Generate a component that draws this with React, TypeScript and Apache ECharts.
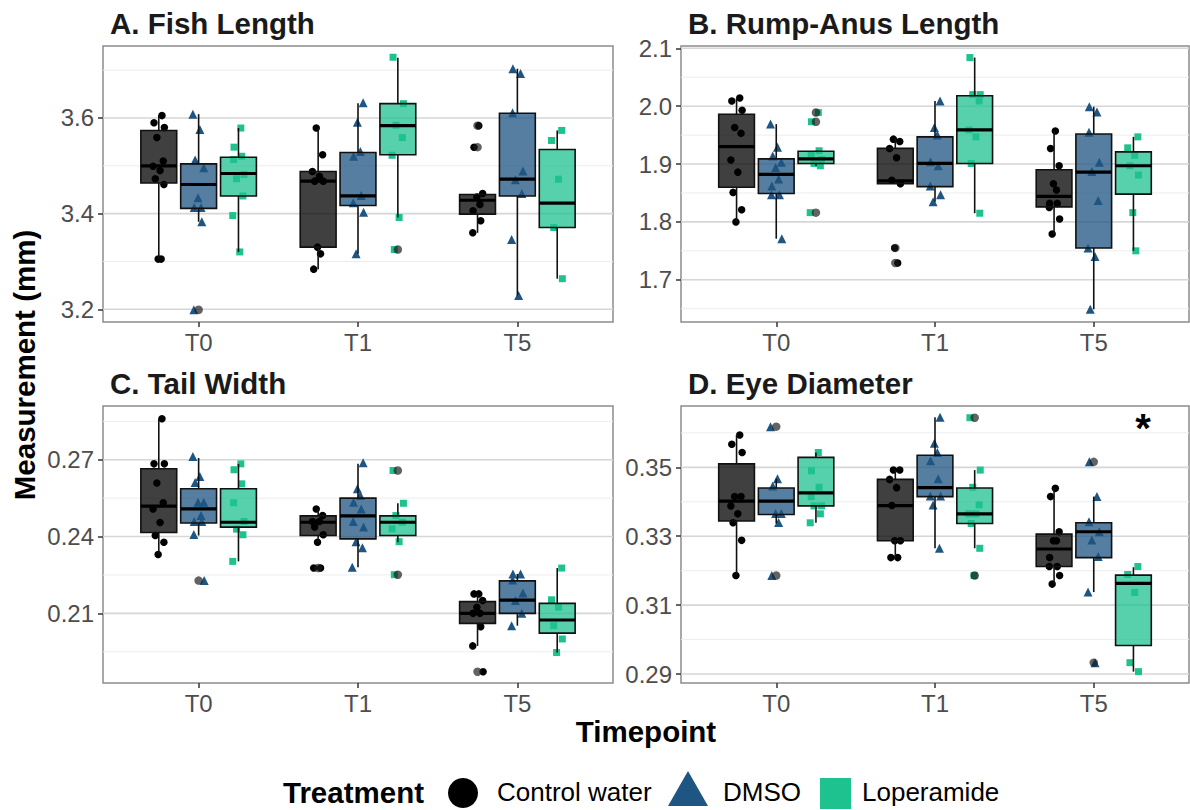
import React, { useEffect, useRef } from "react";
import * as echarts from "echarts";

const timepoints = ["T0", "T1", "T5"];
const treatments = ["Control water", "DMSO", "Loperamide"];

// Box statistics: [lower whisker, Q1, median, Q3, upper whisker] for T0, T1, T5
const fishControlBox = [[3.305, 3.464, 3.5, 3.574, 3.606], [3.284, 3.33, 3.468, 3.488, 3.579], [3.36, 3.399, 3.428, 3.44, 3.442]];
const fishDmsoBox = [[3.383, 3.411, 3.461, 3.504, 3.608], [3.316, 3.417, 3.437, 3.528, 3.631], [3.229, 3.437, 3.472, 3.61, 3.703]];
const fishLopBox = [[3.32, 3.437, 3.484, 3.518, 3.579], [3.392, 3.523, 3.584, 3.63, 3.726], [3.264, 3.371, 3.422, 3.534, 3.574]];

const rumpControlBox = [[1.8, 1.86, 1.93, 1.986, 2.014], [1.866, 1.866, 1.871, 1.927, 1.944], [1.779, 1.826, 1.844, 1.89, 1.957]];
const rumpDmsoBox = [[1.771, 1.849, 1.882, 1.909, 1.969], [1.835, 1.861, 1.901, 1.947, 2.009], [1.649, 1.755, 1.886, 1.952, 1.999]];
const rumpLopBox = [[1.897, 1.901, 1.909, 1.922, 1.923], [1.815, 1.901, 1.959, 2.018, 2.084], [1.75, 1.848, 1.897, 1.921, 1.947]];

const tailControlBox = [[0.233, 0.2416, 0.2519, 0.2665, 0.286], [0.2378, 0.2404, 0.2456, 0.2481, 0.2508], [0.1973, 0.2061, 0.21, 0.2146, 0.2176]];
const tailDmsoBox = [[0.2404, 0.2453, 0.2508, 0.2587, 0.2707], [0.228, 0.2391, 0.2481, 0.255, 0.2684], [0.2052, 0.21, 0.2152, 0.2227, 0.2254]];
const tailLopBox = [[0.2303, 0.2437, 0.2456, 0.2587, 0.2684], [0.2378, 0.2404, 0.2456, 0.2481, 0.253], [0.1947, 0.2023, 0.2074, 0.2139, 0.2277]];

const eyeControlBox = [[0.3186, 0.3344, 0.3402, 0.351, 0.3594], [0.3238, 0.3287, 0.3389, 0.3465, 0.3492], [0.3161, 0.3212, 0.3263, 0.3306, 0.3439]];
const eyeDmsoBox = [[0.3337, 0.3363, 0.3402, 0.344, 0.3467], [0.3265, 0.3415, 0.3441, 0.3535, 0.3645], [0.3138, 0.3238, 0.3313, 0.3339, 0.3415]];
const eyeLopBox = [[0.3339, 0.3388, 0.3426, 0.3529, 0.3543], [0.3265, 0.3337, 0.3365, 0.344, 0.3492], [0.2907, 0.2983, 0.3163, 0.3187, 0.321]];

// Individual measurements per timepoint (T0, T1, T5)
const fishControlPts = [[3.605, 3.59, 3.58, 3.559, 3.51, 3.499, 3.49, 3.473, 3.461, 3.305, 3.305], [3.579, 3.523, 3.488, 3.478, 3.468, 3.468, 3.33, 3.316, 3.284], [3.584, 3.539, 3.442, 3.435, 3.419, 3.406, 3.385, 3.36]];
const fishDmsoPts = [[3.608, 3.576, 3.512, 3.496, 3.433, 3.413, 3.413, 3.383, 3.199], [3.632, 3.591, 3.53, 3.52, 3.438, 3.423, 3.403, 3.316], [3.703, 3.693, 3.611, 3.489, 3.471, 3.442, 3.346, 3.229]];
const fishLopPts = [[3.579, 3.539, 3.52, 3.513, 3.482, 3.473, 3.437, 3.396, 3.32], [3.727, 3.63, 3.585, 3.559, 3.522, 3.392, 3.325], [3.574, 3.553, 3.472, 3.371, 3.264]];

const rumpControlPts = [[2.014, 2.009, 1.993, 1.963, 1.953, 1.907, 1.886, 1.851, 1.821, 1.8], [1.943, 1.939, 1.927, 1.911, 1.872, 1.866, 1.755, 1.729], [1.957, 1.927, 1.897, 1.866, 1.855, 1.832, 1.832, 1.825, 1.805, 1.779]];
const rumpDmsoPts = [[1.969, 1.929, 1.914, 1.903, 1.894, 1.874, 1.862, 1.847, 1.847, 1.771], [2.009, 1.963, 1.95, 1.904, 1.897, 1.862, 1.847, 1.835], [1.999, 1.99, 1.955, 1.903, 1.887, 1.837, 1.755, 1.74, 1.649]];
const rumpLopPts = [[1.989, 1.973, 1.923, 1.916, 1.908, 1.901, 1.897, 1.816], [2.084, 2.02, 2.02, 2.009, 1.959, 1.947, 1.901, 1.815], [1.947, 1.928, 1.915, 1.897, 1.881, 1.816, 1.75]];

const tailControlPts = [[0.286, 0.2684, 0.2684, 0.2609, 0.2532, 0.2508, 0.2455, 0.2404, 0.2378, 0.233], [0.2508, 0.2482, 0.2459, 0.2459, 0.2437, 0.2407, 0.2378, 0.2277, 0.2277], [0.2176, 0.2176, 0.215, 0.2124, 0.21, 0.21, 0.2048, 0.1973, 0.1872]];
const tailDmsoPts = [[0.2713, 0.2635, 0.2611, 0.2534, 0.2534, 0.2482, 0.2459, 0.2459, 0.2408, 0.2228], [0.2688, 0.2587, 0.256, 0.2534, 0.2508, 0.2459, 0.2437, 0.238, 0.2356, 0.228], [0.2254, 0.2254, 0.223, 0.218, 0.215, 0.21, 0.2052]];
const tailLopPts = [[0.2684, 0.2661, 0.2606, 0.2532, 0.2459, 0.2429, 0.2407, 0.2303], [0.2658, 0.253, 0.2482, 0.2456, 0.243, 0.238, 0.2251], [0.2277, 0.2153, 0.2124, 0.2052, 0.2, 0.1947]];

const eyeControlPts = [[0.3594, 0.3567, 0.3543, 0.3415, 0.3415, 0.3388, 0.3365, 0.3339, 0.3288, 0.3186], [0.3492, 0.3492, 0.3465, 0.3441, 0.3389, 0.3287, 0.3287, 0.3238, 0.3238], [0.3439, 0.3415, 0.3313, 0.3287, 0.3287, 0.3238, 0.3212, 0.3212, 0.3186, 0.3161]];
const eyeDmsoPts = [[0.3618, 0.3467, 0.3446, 0.3366, 0.3366, 0.334, 0.3186], [0.3645, 0.357, 0.3543, 0.3519, 0.3467, 0.3417, 0.3417, 0.3391, 0.3265], [0.3516, 0.3415, 0.3342, 0.3313, 0.3289, 0.3241, 0.3138, 0.2933]];
const eyeLopPts = [[0.3543, 0.349, 0.3442, 0.3415, 0.3388, 0.3388, 0.3365, 0.3339], [0.3644, 0.3492, 0.3442, 0.3391, 0.3365, 0.3365, 0.3337, 0.3265, 0.3186], [0.3212, 0.3189, 0.3137, 0.2933, 0.2907]];

// Boxplot outliers per timepoint
const fishControlOut = [[], [], [3.584, 3.539]];
const fishDmsoOut = [[3.199], [], []];
const fishLopOut = [[], [3.325], []];
const rumpControlOut = [[], [1.755, 1.729], []];
const rumpDmsoOut = [[], [], []];
const rumpLopOut = [[1.989, 1.973, 1.816], [], []];
const tailControlOut = [[], [0.2277], [0.1872]];
const tailDmsoOut = [[0.2228], [], []];
const tailLopOut = [[], [0.2658, 0.2251], []];
const eyeControlOut = [[], [], []];
const eyeDmsoOut = [[0.3618, 0.3186], [], [0.3516, 0.2933]];
const eyeLopOut = [[], [0.3644, 0.3186], []];

// Axis ticks
const fishTicks = [3.2, 3.4, 3.6];
const fishMinor = [3.3, 3.5, 3.7];
const rumpTicks = [1.7, 1.8, 1.9, 2.0, 2.1];
const rumpMinor = [1.65, 1.75, 1.85, 1.95, 2.05];
const tailTicks = [0.21, 0.24, 0.27];
const tailMinor = [0.195, 0.225, 0.255, 0.285];
const eyeTicks = [0.29, 0.31, 0.33, 0.35];
const eyeMinor = [0.3, 0.32, 0.34, 0.36];

const FONT = "'Liberation Sans', Arial, Helvetica, sans-serif";
const POINT_COLORS = ["#000000", "#1f5582", "#1ec28f"];
const FILL_COLORS = ["rgba(0,0,0,0.75)", "rgba(31,85,130,0.76)", "rgba(30,194,143,0.75)"];
const SYMBOLS = ["circle", "triangle", "rect"];
const SYMBOL_SIZES = [7.5, 9, 7];
const JITTER = [0.02, -0.03, 0.035, -0.012, 0.028, -0.036, 0.008, -0.022, 0.032, -0.004, 0.015, -0.028];
const DODGE = 0.25;
const HALF = 0.1125;

const panels = [
  { title: "A. Fish Length", boxes: [fishControlBox, fishDmsoBox, fishLopBox], pts: [fishControlPts, fishDmsoPts, fishLopPts], out: [fishControlOut, fishDmsoOut, fishLopOut], ticks: fishTicks, minor: fishMinor, dec: 1, min: 3.1735, max: 3.7505 },
  { title: "B. Rump-Anus Length", boxes: [rumpControlBox, rumpDmsoBox, rumpLopBox], pts: [rumpControlPts, rumpDmsoPts, rumpLopPts], out: [rumpControlOut, rumpDmsoOut, rumpLopOut], ticks: rumpTicks, minor: rumpMinor, dec: 1, min: 1.627, max: 2.104 },
  { title: "C. Tail Width", boxes: [tailControlBox, tailDmsoBox, tailLopBox], pts: [tailControlPts, tailDmsoPts, tailLopPts], out: [tailControlOut, tailDmsoOut, tailLopOut], ticks: tailTicks, minor: tailMinor, dec: 2, min: 0.1828, max: 0.291 },
  { title: "D. Eye Diameter", boxes: [eyeControlBox, eyeDmsoBox, eyeLopBox], pts: [eyeControlPts, eyeDmsoPts, eyeLopPts], out: [eyeControlOut, eyeDmsoOut, eyeLopOut], ticks: eyeTicks, minor: eyeMinor, dec: 2, min: 0.2874, max: 0.3678 },
];

const GRIDS = [
  { left: 103, top: 46, width: 510, height: 276 },
  { left: 681, top: 46, width: 508, height: 276 },
  { left: 103, top: 406, width: 510, height: 277 },
  { left: 681, top: 406, width: 508, height: 277 },
];

function buildOption() {
  const grid: any[] = [];
  const xAxis: any[] = [];
  const yAxis: any[] = [];
  const series: any[] = [];
  const graphic: any[] = [];

  panels.forEach((p, i) => {
    const g = GRIDS[i];
    grid.push({ ...g, show: true, borderColor: "#8c8c8c", borderWidth: 1.5, backgroundColor: "#fff" });
    xAxis.push({
      type: "value", gridIndex: i, min: 0.4, max: 3.6,
      splitLine: { show: false }, axisLine: { show: false },
      axisTick: { show: true, customValues: [1, 2, 3], length: 5, lineStyle: { color: "#333", width: 1.5 } },
      axisLabel: { customValues: [1, 2, 3], formatter: (v: number) => timepoints[Math.round(v) - 1], fontSize: 24, color: "#4d4d4d", margin: 8, fontFamily: FONT },
    });
    yAxis.push({
      type: "value", gridIndex: i, min: p.min, max: p.max,
      splitLine: { show: false }, axisLine: { show: false },
      axisTick: { show: true, customValues: p.ticks, length: 5, lineStyle: { color: "#333", width: 1.5 } },
      axisLabel: { customValues: p.ticks, formatter: (v: number) => v.toFixed(p.dec), fontSize: 24, color: "#4d4d4d", margin: 9, fontFamily: FONT },
    });

    // gridlines
    const gl = [...p.minor.map((v) => [1, v, 0]), ...p.ticks.map((v) => [1, v, 1])];
    series.push({
      type: "custom", xAxisIndex: i, yAxisIndex: i, z: 1, silent: true,
      encode: { x: 0, y: 1 },
      data: gl,
      renderItem: (params: any, api: any) => {
        const cs = params.coordSys;
        const y = api.coord([1, api.value(1)])[1];
        const major = api.value(2) === 1;
        return {
          type: "line",
          shape: { x1: cs.x, y1: y, x2: cs.x + cs.width, y2: y },
          style: { stroke: major ? "#d6d6d6" : "#ededed", lineWidth: major ? 1.6 : 1 },
        };
      },
    });

    treatments.forEach((name, k) => {
      const off = (k - 1) * DODGE;
      const ptsData: number[][] = [];
      p.pts[k].forEach((vals, t) => {
        vals.forEach((v, j) => {
          ptsData.push([t + 1 + off + JITTER[(j + t * 3 + k * 5) % JITTER.length], v]);
        });
      });
      series.push({
        type: "scatter", name, xAxisIndex: i, yAxisIndex: i, z: 2,
        symbol: SYMBOLS[k], symbolSize: SYMBOL_SIZES[k],
        itemStyle: { color: POINT_COLORS[k], opacity: 1 },
        data: ptsData,
      });
      const boxData = p.boxes[k].map((b, t) => [t + 1 + off, ...b]);
      series.push({
        type: "custom", xAxisIndex: i, yAxisIndex: i, z: 3, silent: true,
        encode: { x: 0, y: [1, 2, 3, 4, 5] },
        data: boxData,
        renderItem: (_params: any, api: any) => {
          const x = api.value(0);
          const lo = api.coord([x, api.value(1)]);
          const q1 = api.coord([x, api.value(2)]);
          const md = api.coord([x, api.value(3)]);
          const q3 = api.coord([x, api.value(4)]);
          const hi = api.coord([x, api.value(5)]);
          const l = api.coord([x - HALF, api.value(3)])[0];
          const r = api.coord([x + HALF, api.value(3)])[0];
          const st = { stroke: "#111", lineWidth: 1.6 };
          return {
            type: "group",
            children: [
              { type: "line", shape: { x1: lo[0], y1: lo[1], x2: q1[0], y2: q1[1] }, style: st },
              { type: "line", shape: { x1: q3[0], y1: q3[1], x2: hi[0], y2: hi[1] }, style: st },
              { type: "rect", shape: { x: l, y: q3[1], width: r - l, height: q1[1] - q3[1] }, style: { fill: FILL_COLORS[k], stroke: "#111", lineWidth: 1.6 } },
              { type: "line", shape: { x1: l, y1: md[1], x2: r, y2: md[1] }, style: { stroke: "#000", lineWidth: 3.2 } },
            ],
          };
        },
      });
      const outData: number[][] = [];
      p.out[k].forEach((vals, t) => vals.forEach((v) => outData.push([t + 1 + off, v])));
      series.push({
        type: "scatter", xAxisIndex: i, yAxisIndex: i, z: 4,
        symbol: "circle", symbolSize: 8.5,
        itemStyle: { color: "rgba(25,25,25,0.85)" },
        data: outData,
      });
    });

    graphic.push({
      type: "text", x: g.left + 7, y: g.top - 23,
      style: { text: p.title, font: `bold 29.5px ${FONT}`, fill: "#1a1a1a", textVerticalAlign: "middle", textAlign: "left" },
    });
  });

  // significance marker
  graphic.push({ type: "text", x: 1143, y: 428, style: { text: "*", font: `bold 40px ${FONT}`, fill: "#000", textAlign: "center", textVerticalAlign: "middle" } });

  // axis titles
  graphic.push({ type: "text", x: 646, y: 731, style: { text: "Timepoint", font: `bold 29.5px ${FONT}`, fill: "#000", textAlign: "center", textVerticalAlign: "middle" } });
  graphic.push({ type: "text", x: 24, y: 365, rotation: Math.PI / 2, style: { text: "Measurement (mm)", font: `bold 29.5px ${FONT}`, fill: "#000", textAlign: "center", textVerticalAlign: "middle" } });

  // legend
  graphic.push({ type: "text", x: 283, y: 792, style: { text: "Treatment", font: `bold 29.5px ${FONT}`, fill: "#000", textAlign: "left", textVerticalAlign: "middle" } });
  graphic.push({ type: "circle", shape: { cx: 463, cy: 793, r: 15 }, style: { fill: POINT_COLORS[0] } });
  graphic.push({ type: "text", x: 497, y: 792, style: { text: treatments[0], font: `26px ${FONT}`, fill: "#000", textAlign: "left", textVerticalAlign: "middle" } });
  graphic.push({ type: "polygon", shape: { points: [[688, 771], [668, 806], [708, 806]] }, style: { fill: POINT_COLORS[1] } });
  graphic.push({ type: "text", x: 723, y: 792, style: { text: treatments[1], font: `26px ${FONT}`, fill: "#000", textAlign: "left", textVerticalAlign: "middle" } });
  graphic.push({ type: "rect", shape: { x: 820, y: 778, width: 31, height: 31 }, style: { fill: POINT_COLORS[2] } });
  graphic.push({ type: "text", x: 862, y: 792, style: { text: treatments[2], font: `26px ${FONT}`, fill: "#000", textAlign: "left", textVerticalAlign: "middle" } });

  return { animation: false, backgroundColor: "#fff", grid, xAxis, yAxis, series, graphic };
}

export default function App() {
  const ref = useRef<HTMLDivElement>(null);
  useEffect(() => {
    document.body.style.margin = "0";
    if (!ref.current) return;
    const chart = echarts.init(ref.current, undefined, { renderer: "svg" });
    chart.setOption(buildOption() as any);
    return () => chart.dispose();
  }, []);
  return <div ref={ref} style={{ width: 1190, height: 810 }} />;
}
